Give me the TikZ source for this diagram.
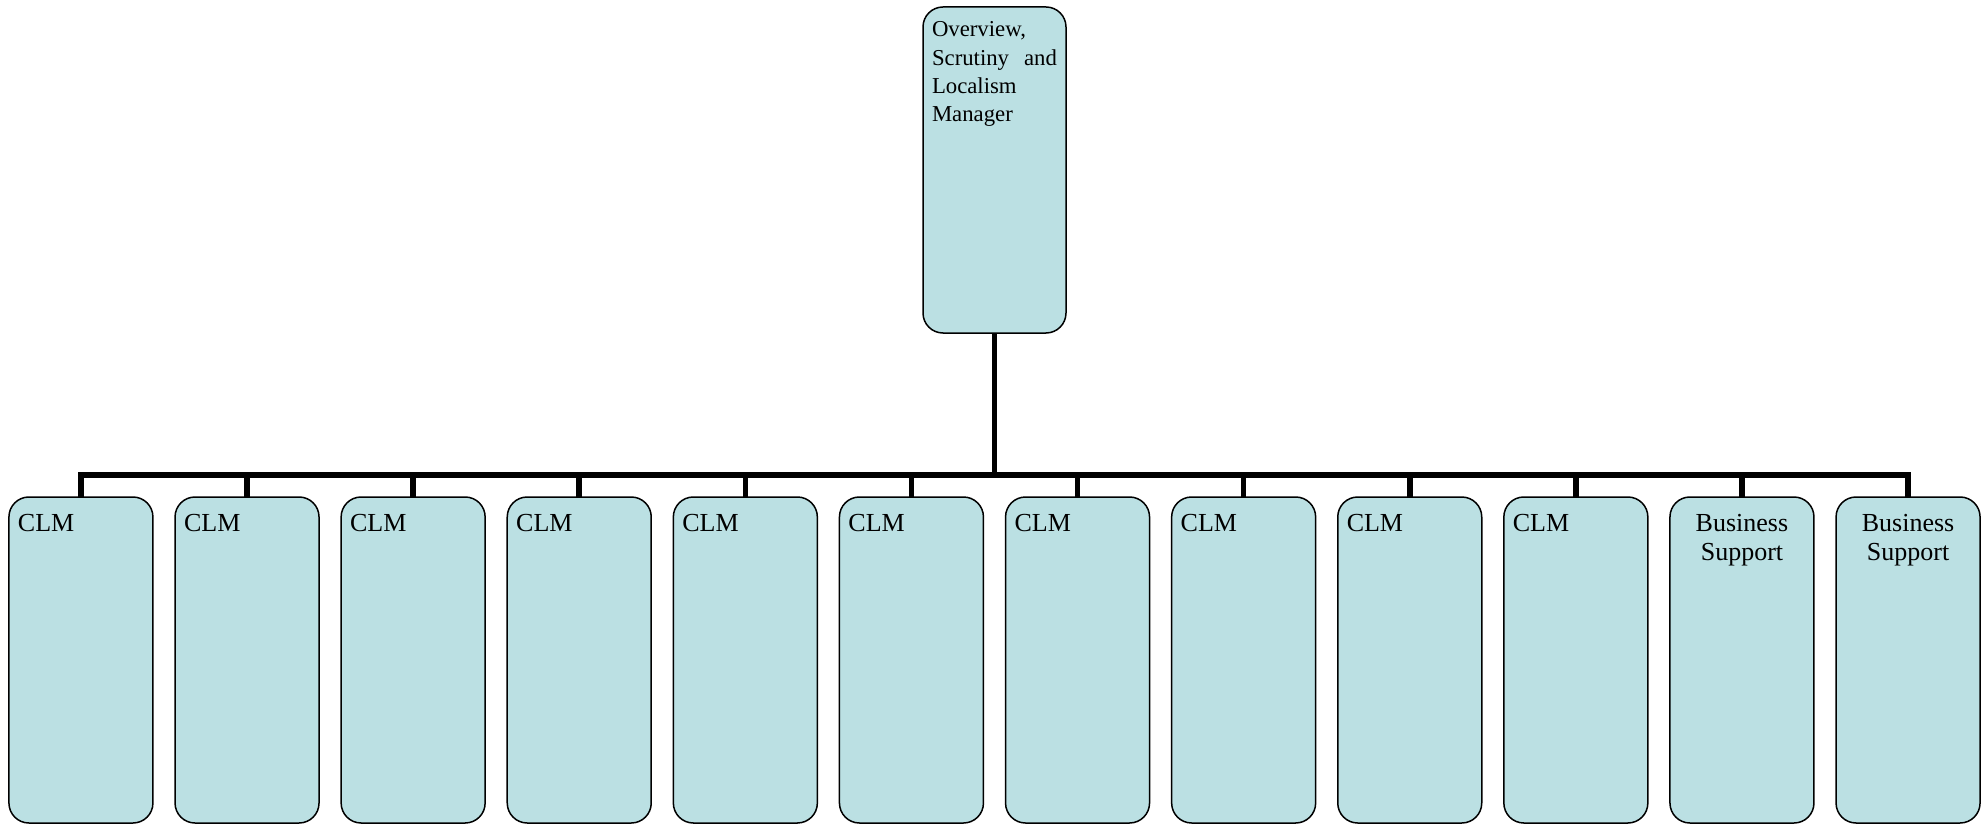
\documentclass[tikz,border=0pt]{standalone}
\usepackage{fontspec}
\setmainfont{Liberation Serif}
\definecolor{boxblue}{RGB}{187,224,227}
\begin{document}
\begin{tikzpicture}[
			x=0.4pt, y=-0.4pt,
			every node/.style={draw, line width=0.6pt, fill=boxblue, rounded corners=8pt,
				inner xsep=3.6pt, inner ysep=0pt, outer sep=0pt},
			level 1/.style={sibling distance=66.44pt, level distance=196pt,
				font=\fontsize{10.4}{11.6}\selectfont},
			clmbox/.style={minimum width=57.6pt, text width=50.4pt, align=left,
				text height=13.6pt, text depth=116.8pt},
			supportbox/.style={clmbox, align=center},
			edge from parent/.style={draw, line width=2.2pt},
			edge from parent path={(\tikzparentnode.south) |- ([yshift=8.8pt]\tikzchildnode.north)
				-- (\tikzchildnode.north)},
		]
		\useasboundingbox (0,0) rectangle (1982,825);
		\node[minimum width=57.2pt, text width=50pt, align=left,
			text height=12pt, text depth=118.4pt,
			font=\fontsize{9.1}{11.3}\selectfont] (manager) at (994.5,170)
			{Overview,\\ Scrutiny\hfill and\\ Localism\\ Manager}
			child {node[clmbox] (clm1) {CLM}}
			child {node[clmbox] (clm2) {CLM}}
			child {node[clmbox] (clm3) {CLM}}
			child {node[clmbox] (clm4) {CLM}}
			child {node[clmbox] (clm5) {CLM}}
			child {node[clmbox] (clm6) {CLM}}
			child {node[clmbox] (clm7) {CLM}}
			child {node[clmbox] (clm8) {CLM}}
			child {node[clmbox] (clm9) {CLM}}
			child {node[clmbox] (clm10) {CLM}}
			child {node[supportbox] (support1) {Business\\ Support}}
			child {node[supportbox] (support2) {Business\\ Support}};
		\end{tikzpicture}
\end{document}
